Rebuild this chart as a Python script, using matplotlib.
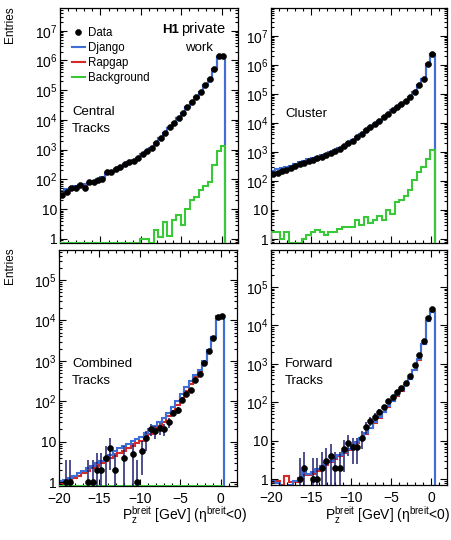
import numpy as np
import matplotlib.pyplot as plt
from matplotlib.ticker import LogLocator, MultipleLocator, FuncFormatter, NullFormatter

plt.rcParams["font.family"] = ["Liberation Sans", "DejaVu Sans"]
plt.rcParams["mathtext.fontset"] = "custom"
plt.rcParams["mathtext.rm"] = "Liberation Sans"
plt.rcParams["mathtext.it"] = "Liberation Sans:italic"
plt.rcParams["mathtext.bf"] = "Liberation Sans:bold"

W, H = 451, 540

# binning of the P_z^breit histograms
X_LO, X_HI, N_BINS = -20.0, 0.45, 37
edges = np.linspace(X_LO, X_HI, N_BINS + 1)
centres = 0.5 * (edges[1:] + edges[:-1])

# ---- Central tracks
ct_data = np.array([29, 38, 50, 51, 63, 50, 79, 85, 93, 107, 174, 178, 219, 263, 324, 380, 427, 525,
                    692, 891, 1150, 1700, 2460, 3630, 5620, 7940, 11700, 17400, 26900, 39800, 57500,
                    87100, 148000, 234000, 525000, 1380000, 1370000])
ct_django = np.array([42, 46, 52, 58, 64, 70, 78, 88, 100, 125, 160, 190, 225, 270, 325, 385, 440, 540,
                      700, 900, 1150, 1700, 2450, 3600, 5500, 7900, 11500, 17000, 26500, 39000, 57000,
                      86000, 145000, 232000, 510000, 1330000, 1330000])
ct_rapgap = np.array([31, 37, 44, 50, 56, 62, 70, 80, 92, 115, 150, 180, 215, 260, 315, 375, 430, 530,
                      690, 890, 1140, 1680, 2430, 3580, 5450, 7850, 11400, 16900, 26300, 38800, 56500,
                      85500, 144000, 230000, 505000, 1320000, 1320000])
ct_bg = np.array([0, 0, 0, 0, 0, 0, 0, 0, 0, 0, 0, 0, 0, 0, 0, 0, 0, 0,
                  1, 1, 0, 2, 1.2, 3.7, 1.3, 4.3, 6.3, 2.9, 10.5, 20, 26, 44, 60, 85, 300, 870, 1300])

# ---- Cluster
cl_data = np.array([174, 195, 219, 245, 275, 316, 372, 427, 479, 537, 603, 692, 794, 891, 1050, 1260,
                    1550, 1950, 2460, 3160, 4170, 5500, 7240, 9330, 12000, 15500, 20900, 27500, 35500,
                    45700, 57500, 79400, 120000, 200000, 331000, 1100000, 2400000])
cl_django = np.array([225, 250, 275, 305, 340, 385, 440, 495, 550, 610, 680, 770, 870, 970, 1130, 1340,
                      1620, 2020, 2520, 3220, 4200, 5520, 7260, 9350, 12000, 15500, 20900, 27500, 35500,
                      45700, 57500, 79400, 120000, 200000, 335000, 1080000, 2300000])
cl_rapgap = np.array([185, 205, 228, 255, 285, 325, 380, 435, 485, 545, 610, 700, 800, 900, 1055, 1265,
                      1555, 1960, 2470, 3170, 4180, 5510, 7250, 9340, 12000, 15500, 20900, 27500, 35500,
                      45700, 57500, 79400, 120000, 200000, 333000, 1090000, 2350000])
cl_bg = np.array([1.8, 1.8, 1.0, 1.7, 0, 0, 0, 1.0, 1.4, 1.7, 2.1, 1.7, 1.4, 1.8, 1.8, 2.2, 2.6, 2.6,
                  2.6, 4.6, 3.1, 5.6, 3.7, 4.6, 6.2, 4.6, 10, 7.3, 19, 22, 30, 48, 110, 200, 300, 550, 1150])

# ---- Combined tracks
cb_data = np.array([0, 1, 1, 0, 0, 0, 1, 1, 2, 2, 4, 7, 2, 0, 4, 0, 5, 1, 6, 12, 21, 18, 22, 21, 30,
                    52, 60, 110, 150, 190, 330, 460, 900, 1700, 3700, 12000, 13000])
cb_err = np.array([0, 2.5, 2.5, 0, 0, 0, 2.5, 2.5, 3.2, 3.2, 4, 5, 3.2, 0, 4, 0, 4.5, 2.5, 4.5, 6, 7,
                   6.5, 7, 7, 8, 10, 11, 15, 17, 20, 26, 30, 40, 55, 80, 150, 150])
cb_django = np.array([1.05, 1.1, 1.25, 1.45, 1.65, 1.9, 2.2, 2.5, 2.9, 3.4, 4.0, 4.6, 6.0, 6.8, 7.8, 9.0,
                      10.5, 11.5, 13, 16, 20, 25, 31, 38, 52, 72, 100, 150, 220, 320, 440, 600, 1000,
                      1800, 3900, 12500, 13000])
cb_rapgap = np.array([0.9, 1.0, 1.1, 1.25, 1.45, 1.65, 1.9, 2.2, 2.5, 2.9, 3.4, 3.9, 4.5, 5.2, 6.0, 7.0,
                      8.0, 9.2, 10.5, 12.5, 15.5, 19, 24, 30, 42, 58, 82, 120, 180, 270, 390, 560, 960,
                      1750, 3850, 12400, 12900])
cb_bg = np.zeros(N_BINS)

# ---- Forward tracks
fw_data = np.array([0, 0, 0, 0, 0, 0, 1, 2, 0, 1, 1, 2, 3, 4, 2, 2, 6, 9, 7, 7, 12, 23, 33, 42, 57,
                    74, 108, 140, 190, 230, 324, 480, 930, 1700, 4000, 15000, 27000])
fw_err = np.array([0, 0, 0, 0, 0, 0, 2.5, 3, 0, 2.5, 2.5, 3, 3.5, 4, 3, 3, 4.5, 5, 4.5, 4.5, 6, 8, 9,
                   10, 11, 12, 14, 16, 19, 21, 25, 30, 40, 55, 80, 160, 220])
fw_django = np.array([0.9, 0.8, 0.6, 0.5, 0.7, 0.9, 1.1, 1.6, 1.4, 1.5, 1.8, 2.2, 2.6, 3.0, 3.6, 4.3,
                      5.2, 6.2, 7.6, 9.2, 12, 16, 22, 30, 41, 56, 78, 110, 150, 205, 280, 400, 700,
                      1300, 3300, 13000, 22000])
fw_rapgap = np.array([0.8, 0.9, 0.7, 1.25, 0.85, 0.85, 1.0, 1.3, 1.3, 1.4, 1.6, 1.9, 2.3, 2.8, 3.4, 4.0,
                      4.8, 5.8, 7.0, 8.6, 11, 15, 21, 29, 40, 55, 77, 108, 148, 200, 275, 395, 690,
                      1280, 3250, 12800, 21500])

BLUE = "#3d6fd6"
RED = "#d42a2a"
GREEN = "#38c838"
NAVY = "#1f1f70"


def px_rect(x0, y0, w, h):
    return [x0 / W, 1 - (y0 + h) / H, w / W, h / H]


def log_label(v, pos):
    e = int(round(np.log10(v)))
    if e == 0:
        return "1"
    if e == 1:
        return "10"
    return r"$10^{%d}$" % e


def fig_txt(x, y, s, **kw):
    fig.text(x / W, 1 - y / H, s, va="baseline", **kw)


fig = plt.figure(figsize=(W / 100, H / 100), dpi=100)

panels = [
    (px_rect(60, 8, 178, 235), ct_data, None, ct_django, ct_rapgap, ct_bg, (0.73, 5.8e7), False),
    (px_rect(271, 8, 176, 235), cl_data, None, cl_django, cl_rapgap, cl_bg, (0.73, 9e7), False),
    (px_rect(59, 250, 178, 236), cb_data, cb_err, cb_django, cb_rapgap, cb_bg, (0.8, 5.5e5), True),
    (px_rect(271, 250, 176, 235), fw_data, fw_err, fw_django, fw_rapgap, None, (0.71, 9e5), True),
]

axes = []
for rect, data, err, django, rapgap, bg, (ylo, yhi), xlab in panels:
    ax = fig.add_axes(rect)
    ax.set_yscale("log", nonpositive="clip")
    if bg is not None:
        # empty background bins are drawn on the lower frame, as ROOT does
        ax.stairs(np.maximum(bg, ylo), edges, color=GREEN, lw=1.5, baseline=ylo, zorder=2.6)
    ax.stairs(rapgap, edges, color=RED, lw=1.5, baseline=ylo)
    ax.stairs(django, edges, color=BLUE, lw=1.5, baseline=ylo)
    m = data > 0
    h_data = ax.errorbar(centres[m], data[m], yerr=None if err is None else err[m], fmt="o",
                         color="black", ms=4.3, mew=0.4, ecolor=NAVY, elinewidth=1.1,
                         capsize=0, zorder=3)
    ax.set_xlim(-20, 2)
    ax.set_ylim(ylo, yhi)
    ax.xaxis.set_major_locator(MultipleLocator(5))
    ax.xaxis.set_minor_locator(MultipleLocator(1))
    ax.yaxis.set_major_locator(LogLocator(base=10, numticks=20))
    ax.yaxis.set_minor_locator(LogLocator(base=10, subs=np.arange(2, 10), numticks=20))
    ax.yaxis.set_major_formatter(FuncFormatter(log_label))
    ax.yaxis.set_minor_formatter(NullFormatter())
    ax.tick_params(which="both", direction="in", top=True, right=True, labelsize=10,
                   labelbottom=xlab, width=0.8)
    ax.tick_params(which="major", length=5)
    ax.tick_params(which="minor", length=2.5)
    ax.tick_params(axis="y", pad=2)
    ax.tick_params(axis="x", pad=4)
    for s in ax.spines.values():
        s.set_linewidth(0.9)
    axes.append((ax, h_data))

# legend in the first panel
ax0, h0 = axes[0]
h_dj = plt.Line2D([], [], color=BLUE, lw=1.5)
h_rg = plt.Line2D([], [], color=RED, lw=1.5)
h_bg = plt.Line2D([], [], color=GREEN, lw=1.5)
fig.legend([h0, h_dj, h_rg, h_bg], ["Data", "Django", "Rapgap", "Background"],
           loc="upper left", bbox_to_anchor=(72 / W, 1 - 27 / H), frameon=False,
           fontsize=8.3, handlelength=1.1, handletextpad=0.3, labelspacing=0.25,
           borderpad=0, borderaxespad=0)

fig_txt(162, 33, "H1", fontsize=9.5, fontweight="bold")
fig_txt(181, 33, "private", fontsize=10.5)
fig_txt(199, 51, "work", fontsize=9.5, ha="center")

for x, y, lines in [(72, 115, ["Central", "Tracks"]), (285, 117, ["Cluster"]),
                    (72, 367, ["Combined", "Tracks"]), (285, 367, ["Forward", "Tracks"])]:
    for k, s in enumerate(lines):
        fig_txt(x, y + 17 * k, s, fontsize=9.5)

for y in (6, 247):
    fig.text(4 / W, 1 - y / H, "Entries", rotation=90, ha="left", va="top", fontsize=8.5)

xlab = r"P$_{\rm z}^{\rm breit}$ [GeV] (η$^{\rm breit}$<0)"
for xr in (247, 450):
    fig_txt(xr, 520, xlab, fontsize=10, ha="right")

fig.savefig("out.png", dpi=100)
